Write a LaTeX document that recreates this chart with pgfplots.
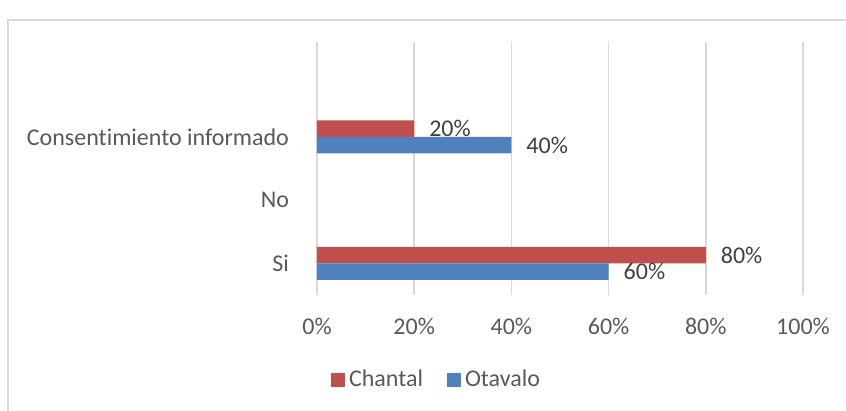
\documentclass[border=0pt]{standalone}
\usepackage{fontspec}
\setmainfont{Carlito}[Ligatures=NoCommon]
\usepackage{pgfplots}
\pgfplotsset{compat=1.18}

\definecolor{chantal}{HTML}{C0504D}
\definecolor{otavalo}{HTML}{4F81BD}
\definecolor{gridgray}{HTML}{D9D9D9}
\definecolor{labelgray}{HTML}{595959}
\definecolor{valgray}{HTML}{404040}

\begin{document}
\begin{tikzpicture}
% page = 846x411 px, 1 px = 0.5pt, axis box lower left at (0,0)
\path[use as bounding box] (-158.5pt,-58pt) rectangle (264.5pt,147.5pt);
\draw[gridgray, line width=0.8pt] (-154.5pt,-58pt) -- (-154.5pt,137.5pt) -- (264.5pt,137.5pt);
\begin{axis}[
    at={(0,0)}, anchor=south west,
    scale only axis,
    width=243pt, height=126.5pt,
    xbar, bar width=8.25pt,
    xmin=0, xmax=100,
    ymin=-0.5, ymax=3.5,
    xtick={0,20,40,60,80,100},
    xticklabel={\pgfmathprintnumber{\tick}\%},
    ytick={0,1,2},
    yticklabels={Si,No,Consentimiento informado},
    axis line style={draw=none},
    major tick length=0pt,
    xmajorgrids,
    grid style={gridgray, line width=0.8pt},
    /pgf/number format/assume math mode=true,
    tick label style={font=\fontsize{12}{14}\selectfont, text=labelgray},
    xticklabel style={yshift=-8pt},
    yticklabel style={xshift=-10.5pt},
    nodes near coords={\pgfmathprintnumber{\pgfplotspointmeta}\%},
    nodes near coords style={font=\fontsize{12}{14}\selectfont, text=valgray, anchor=west, xshift=4pt},
    legend style={
        at={(60.25pt,-42.5pt)}, anchor=center,
        draw=none, legend columns=-1,
        font=\fontsize{12}{14}\selectfont, text=labelgray,
        /tikz/every even column/.append style={column sep=10pt},
    },
    legend image code/.code={\fill[#1] (0pt,-3.5pt) rectangle (7pt,3.5pt);},
]
\addplot[draw=none, fill=chantal, bar shift=4.125pt]
    coordinates {(80,0) (20,2)};
\addplot[draw=none, fill=otavalo, bar shift=-4.125pt]
    coordinates {(60,0) (40,2)};
\legend{Chantal,Otavalo}
\end{axis}
\end{tikzpicture}
\end{document}
